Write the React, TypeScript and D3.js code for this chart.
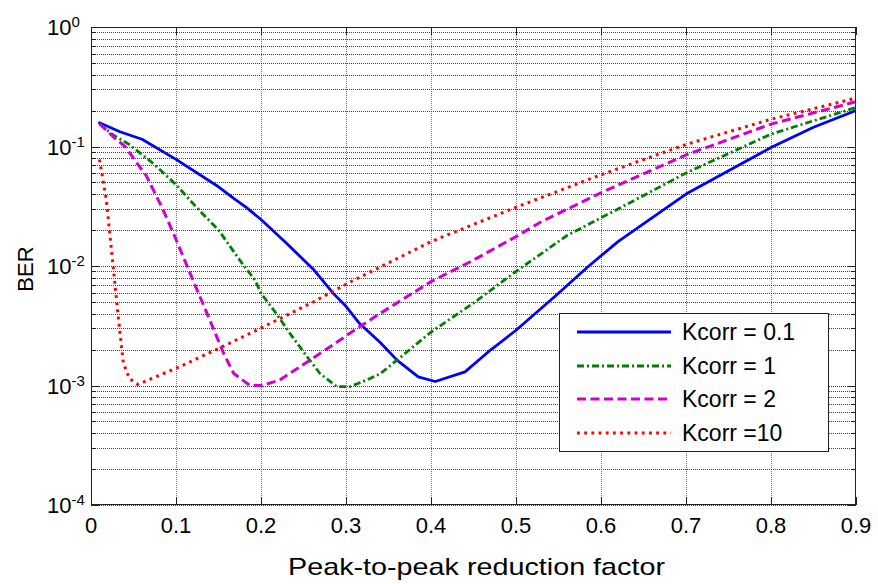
import React from "react";
import * as d3 from "d3";

const W = 878;
const H = 584;

// Axis ticks
const xTickValues = [0, 0.1, 0.2, 0.3, 0.4, 0.5, 0.6, 0.7, 0.8, 0.9];
const xTickLabels = ["0", "0.1", "0.2", "0.3", "0.4", "0.5", "0.6", "0.7", "0.8", "0.9"];
const yDecadeExponents = [0, -1, -2, -3, -4];

// BER vs peak-to-peak reduction factor, one pair of arrays per Kcorr
const kcorr01X = [0.01, 0.034, 0.06, 0.1, 0.15, 0.1675, 0.183, 0.2, 0.23, 0.2615, 0.285, 0.3, 0.316, 0.34, 0.36, 0.385, 0.405, 0.44, 0.47, 0.5, 0.545, 0.585, 0.62, 0.7, 0.8, 0.85, 0.9];
const kcorr01Y = [0.158, 0.133, 0.115, 0.078, 0.046, 0.037, 0.0308, 0.0245, 0.0155, 0.0094, 0.0059, 0.0046, 0.0033, 0.0023, 0.00163, 0.00118, 0.00108, 0.0013, 0.00198, 0.0029, 0.0055, 0.0099, 0.016, 0.04, 0.098, 0.145, 0.2];

const kcorr1X = [0.01, 0.026, 0.045, 0.0733, 0.1, 0.124, 0.15, 0.175, 0.193, 0.2, 0.218, 0.234, 0.2556, 0.2694, 0.289, 0.305, 0.324, 0.34, 0.36, 0.4, 0.45, 0.5, 0.56, 0.62, 0.7, 0.8, 0.9];
const kcorr1Y = [0.155, 0.125, 0.104, 0.072, 0.048, 0.031, 0.02, 0.0112, 0.0076, 0.0059, 0.004, 0.00273, 0.00169, 0.00126, 0.00098, 0.00098, 0.00111, 0.00125, 0.00163, 0.0028, 0.0049, 0.009, 0.018, 0.03, 0.06, 0.127, 0.212];

const kcorr2X = [0.01, 0.026, 0.04, 0.065, 0.085, 0.1, 0.12, 0.14, 0.156, 0.168, 0.187, 0.201, 0.222, 0.2615, 0.316, 0.34, 0.4, 0.45, 0.5, 0.53, 0.6, 0.7, 0.8, 0.9];
const kcorr2Y = [0.155, 0.121, 0.1, 0.057, 0.0294, 0.0167, 0.0076, 0.0035, 0.00186, 0.00126, 0.001, 0.001, 0.00111, 0.0017, 0.0031, 0.004, 0.0074, 0.0112, 0.0176, 0.0235, 0.041, 0.085, 0.154, 0.237];

const kcorr10X = [0.01, 0.018, 0.026, 0.032, 0.038, 0.045, 0.055, 0.1047, 0.152, 0.199, 0.2615, 0.309, 0.33, 0.4, 0.5, 0.6, 0.7, 0.8, 0.9];
const kcorr10Y = [0.078, 0.036, 0.01, 0.0038, 0.00155, 0.00115, 0.00102, 0.00144, 0.00207, 0.003, 0.005, 0.0076, 0.009, 0.016, 0.031, 0.058, 0.104, 0.169, 0.254];

const seriesLabels = ["Kcorr = 0.1", "Kcorr = 1", "Kcorr = 2", "Kcorr =10"];

type Style = { color: string; dash: string; cap: "butt" | "round" | "square"; width: number };
const seriesStyles: Style[] = [
  { color: "#0000ff", dash: "none", cap: "round", width: 2.8 },
  { color: "#008000", dash: "7,3,2,3", cap: "butt", width: 2.8 },
  { color: "#d000d0", dash: "9,4.5", cap: "butt", width: 3 },
  { color: "#ff0000", dash: "2.8,4.4", cap: "butt", width: 3 },
];

const series = [
  { x: kcorr01X, y: kcorr01Y },
  { x: kcorr1X, y: kcorr1Y },
  { x: kcorr2X, y: kcorr2Y },
  { x: kcorr10X, y: kcorr10Y },
];

const plot = { left: 91, right: 856, top: 27, bottom: 505 };

export default function App() {
  const x = d3.scaleLinear().domain([0, 0.9]).range([plot.left, plot.right]);
  const y = d3.scaleLog().domain([1e-4, 1]).range([plot.bottom, plot.top]);

  const line = d3
    .line<[number, number]>()
    .x((d) => x(d[0]))
    .y((d) => y(d[1]));

  // minor + major horizontal grid values
  const hGrid: { v: number; major: boolean }[] = [];
  for (let e = -4; e < 0; e++) {
    for (let k = 1; k <= 9; k++) {
      hGrid.push({ v: k * Math.pow(10, e), major: k === 1 });
    }
  }
  hGrid.push({ v: 1, major: true });

  const font = "'Liberation Sans', Arial, Helvetica, sans-serif";

  const legend = { left: 559, top: 313, right: 828, bottom: 451 };
  const legendRowY = [332, 366, 399, 433];

  return (
    <svg
      width={W}
      height={H}
      viewBox={`0 0 ${W} ${H}`}
      style={{ position: "absolute", left: 0, top: 0, background: "#fff" }}
      fontFamily={font}
    >
      <defs>
        <clipPath id="plotClip">
          <rect x={plot.left} y={plot.top} width={plot.right - plot.left} height={plot.bottom - plot.top} />
        </clipPath>
      </defs>
      <rect x={0} y={0} width={W} height={H} fill="#fff" />

      {/* grid */}
      <g shapeRendering="crispEdges">
        {xTickValues.slice(1, -1).map((t) => (
          <line
            key={"vx" + t}
            x1={Math.round(x(t)) + 0.5}
            x2={Math.round(x(t)) + 0.5}
            y1={plot.top}
            y2={plot.bottom}
            stroke="#777"
            strokeDasharray="1,1"
          />
        ))}
        {hGrid.map((g) => (
          <line
            key={"hy" + g.v}
            x1={plot.left}
            x2={plot.right}
            y1={Math.round(y(g.v)) + 0.5}
            y2={Math.round(y(g.v)) + 0.5}
            stroke="#444"
            strokeDasharray="1,1"
          />
        ))}
      </g>

      {/* ticks inside the box */}
      <g stroke="#222" shapeRendering="crispEdges">
        {xTickValues.map((t) => (
          <g key={"xt" + t}>
            <line x1={Math.round(x(t)) + 0.5} x2={Math.round(x(t)) + 0.5} y1={plot.bottom} y2={plot.bottom - 8} />
            <line x1={Math.round(x(t)) + 0.5} x2={Math.round(x(t)) + 0.5} y1={plot.top} y2={plot.top + 8} />
          </g>
        ))}
        {hGrid.map((g) => (
          <g key={"yt" + g.v}>
            <line x1={plot.left} x2={plot.left + (g.major ? 8 : 5)} y1={Math.round(y(g.v)) + 0.5} y2={Math.round(y(g.v)) + 0.5} />
            <line x1={plot.right} x2={plot.right - (g.major ? 8 : 5)} y1={Math.round(y(g.v)) + 0.5} y2={Math.round(y(g.v)) + 0.5} />
          </g>
        ))}
      </g>

      {/* curves */}
      <g clipPath="url(#plotClip)" fill="none">
        {series.map((s, i) => {
          const pts = s.x.map((xv, j) => [xv, s.y[j]] as [number, number]);
          const st = seriesStyles[i];
          return (
            <path
              key={"s" + i}
              d={line(pts) || ""}
              stroke={st.color}
              strokeWidth={st.width}
              strokeDasharray={st.dash}
              strokeLinecap={st.cap}
              strokeLinejoin="round"
            />
          );
        })}
      </g>

      {/* axes box */}
      <rect
        x={plot.left + 0.5}
        y={plot.top + 0.5}
        width={plot.right - plot.left - 1}
        height={plot.bottom - plot.top - 1}
        fill="none"
        stroke="#222"
        shapeRendering="crispEdges"
      />

      {/* x tick labels */}
      {xTickValues.map((t, i) => (
        <text key={"xl" + t} x={x(t)} y={532.5} fontSize={22} textAnchor="middle" fill="#000">
          {xTickLabels[i]}
        </text>
      ))}

      {/* y tick labels */}
      {yDecadeExponents.map((e) => {
        const yy = y(Math.pow(10, e));
        return (
          <text key={"yl" + e} x={47} y={yy + 8} fontSize={22} fill="#000">
            10
            <tspan fontSize={15} dy={-8}>
              {String(e)}
            </tspan>
          </text>
        );
      })}

      {/* axis titles */}
      <text
        x={288}
        y={575}
        fontSize={24}
        textLength={377}
        lengthAdjust="spacingAndGlyphs"
        fill="#000"
      >
        Peak-to-peak reduction factor
      </text>
      <text
        transform={`translate(33, ${(plot.top + plot.bottom) / 2 + 3}) rotate(-90)`}
        fontSize={22}
        textAnchor="middle"
        fill="#000"
      >
        BER
      </text>

      {/* legend */}
      <rect
        x={legend.left + 0.5}
        y={legend.top + 0.5}
        width={legend.right - legend.left}
        height={legend.bottom - legend.top}
        fill="#fff"
        stroke="#222"
        shapeRendering="crispEdges"
      />
      {seriesLabels.map((lab, i) => {
        const st = seriesStyles[i];
        const ly = legendRowY[i];
        return (
          <g key={"lg" + i}>
            <line
              x1={577}
              x2={671}
              y1={ly}
              y2={ly}
              stroke={st.color}
              strokeWidth={st.width}
              strokeDasharray={st.dash}
              strokeLinecap="butt"
            />
            <text x={682} y={ly + 8} fontSize={23} fill="#000">
              {lab}
            </text>
          </g>
        );
      })}
    </svg>
  );
}
